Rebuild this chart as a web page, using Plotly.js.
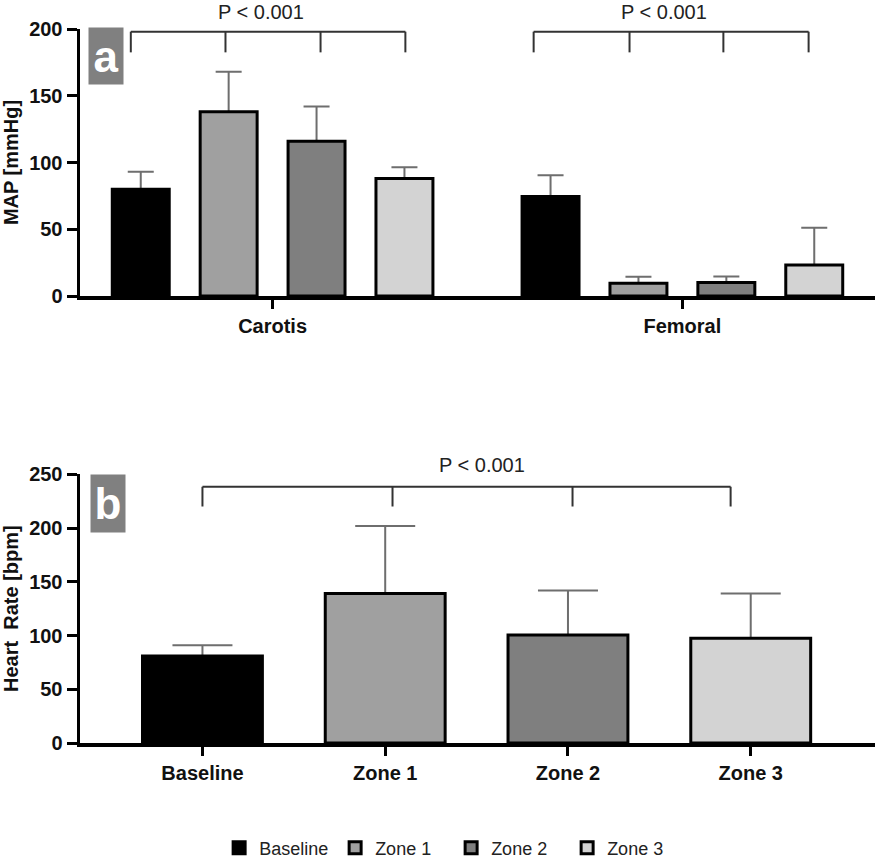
<!DOCTYPE html>
<html>
<head>
<meta charset="utf-8">
<script src="https://cdn.plot.ly/plotly-3.0.1.min.js"></script>
<style>html,body{margin:0;padding:0;background:#fff;}#chart{width:879px;height:860px;}</style>
</head>
<body>
<div id="chart"></div>
<script>
// ---------- data ----------
const sites = ['Carotis', 'Femoral'];
const groups = ['Baseline', 'Zone 1', 'Zone 2', 'Zone 3'];
const groupColors = ['#000000', '#a0a0a0', '#7f7f7f', '#d3d3d3'];

// MAP [mmHg] means (Carotis, Femoral) and upper SD
const mapBaseline = [80, 74.5];
const mapZone1 = [138, 9.5];
const mapZone2 = [116, 10.2];
const mapZone3 = [88, 23.2];
const mapBaselineSD = [13, 16];
const mapZone1SD = [30, 5];
const mapZone2SD = [26, 4.5];
const mapZone3SD = [8.5, 28];

// Heart rate [bpm]
const hrMeans = [81, 139, 100.5, 97.5];
const hrSD = [10, 63, 41.5, 41.5];

const pText = 'P < 0.001';

// ---------- traces ----------
const mapMeans = [mapBaseline, mapZone1, mapZone2, mapZone3];
const mapSDs = [mapBaselineSD, mapZone1SD, mapZone2SD, mapZone3SD];
const errColor = '#6e6e6e';
const traces = [];

// error-bar carriers first (so the opaque bars drawn later hide the lower half)
groups.forEach((g, i) => {
  traces.push({
    type: 'bar', x: sites, y: mapMeans[i], xaxis: 'x', yaxis: 'y',
    offsetgroup: 'g' + i, showlegend: false, hoverinfo: 'skip',
    marker: {color: 'rgba(0,0,0,0)', line: {width: 0}},
    error_y: {type: 'data', array: mapSDs[i], symmetric: true, color: errColor, thickness: 2, width: 13}
  });
});
traces.push({
  type: 'bar', x: groups, y: hrMeans, xaxis: 'x2', yaxis: 'y2',
  offsetgroup: 'hr', width: 0.656, showlegend: false, hoverinfo: 'skip',
  marker: {color: 'rgba(0,0,0,0)', line: {width: 0}},
  error_y: {type: 'data', array: hrSD, symmetric: true, color: errColor, thickness: 2, width: 30}
});
// visible bars
groups.forEach((g, i) => {
  traces.push({
    type: 'bar', name: g, x: sites, y: mapMeans[i], xaxis: 'x', yaxis: 'y',
    offsetgroup: 'g' + i,
    marker: {color: groupColors[i], line: {color: '#000', width: 3}}
  });
});
traces.push({
  type: 'bar', x: groups, y: hrMeans, xaxis: 'x2', yaxis: 'y2',
  offsetgroup: 'hr', width: 0.656, showlegend: false,
  marker: {color: groupColors, line: {color: '#000', width: 3}}
});

// ---------- brackets ----------
const bracketColor = '#333';
const shapes = [];
function bracket(xr, yr, xs, yTop, yBot) {
  shapes.push({type: 'line', xref: xr, yref: yr, x0: xs[0], x1: xs[xs.length - 1], y0: yTop, y1: yTop,
    line: {color: bracketColor, width: 2}});
  xs.forEach(x => shapes.push({type: 'line', xref: xr, yref: yr, x0: x, x1: x, y0: yTop, y1: yBot,
    line: {color: bracketColor, width: 2}}));
}
bracket('x', 'y', [-0.346, -0.115, 0.117, 0.324], 198, 182.5);
bracket('x', 'y', [0.637, 0.871, 1.10, 1.308], 198, 182.5);
bracket('x2', 'y2', [0, 1.04, 2.025, 2.89], 238.5, 220);

const txtFont = {family: 'Liberation Sans, Arial, sans-serif', size: 20, color: '#222'};
const boldTick = {family: 'Liberation Sans, Arial, sans-serif', size: 20, color: '#111', weight: 700};
const labelFont = {family: 'Liberation Sans Narrow, Liberation Sans, Arial, sans-serif', size: 44, color: '#fff', weight: 700};

const annotations = [
  {xref: 'x', yref: 'paper', x: -0.029, y: 1.0238, text: pText, showarrow: false, font: txtFont, yanchor: 'middle'},
  {xref: 'x', yref: 'paper', x: 0.955, y: 1.0238, text: pText, showarrow: false, font: txtFont, yanchor: 'middle'},
  {xref: 'x2', yref: 'paper', x: 1.529, y: 0.3894, text: pText, showarrow: false, font: txtFont, yanchor: 'middle'},
  {xref: 'paper', yref: 'paper', x: 0.01, y: 1.0028, xanchor: 'left', yanchor: 'top', text: 'a',
    showarrow: false, bgcolor: '#808080', width: 34, height: 56, borderpad: 0, font: labelFont},
  {xref: 'paper', yref: 'paper', x: 0.0126, y: 0.3768, xanchor: 'left', yanchor: 'top', text: 'b',
    showarrow: false, bgcolor: '#808080', width: 34, height: 57, borderpad: 0, font: labelFont}
];

const axisCommon = {
  showline: true, linecolor: '#000', linewidth: 3.5, ticks: 'outside', tickcolor: '#000', tickwidth: 3,
  showgrid: false, zeroline: false, fixedrange: true
};

const layout = {
  width: 879, height: 860,
  margin: {l: 80, r: 4, t: 29, b: 117, autoexpand: false},
  paper_bgcolor: '#fff', plot_bgcolor: '#fff',
  barmode: 'group', bargap: 0.142, bargroupgap: 0.352,
  font: {family: 'Liberation Sans, Arial, sans-serif', color: '#111'},
  showlegend: true,
  legend: {orientation: 'h', x: 0.175, xanchor: 'left', y: -0.147, yanchor: 'middle',
    entrywidth: 71, entrywidthmode: 'pixels',
    font: {family: 'Liberation Sans, Arial, sans-serif', size: 18, color: '#222'}, traceorder: 'normal'},
  xaxis: Object.assign({}, axisCommon, {anchor: 'y', domain: [0, 1], type: 'category', range: [-0.47, 1.47],
    ticklen: 9, tickfont: boldTick}),
  yaxis: Object.assign({}, axisCommon, {anchor: 'x', domain: [0.62605, 1], range: [0, 200], dtick: 50, ticklen: 10,
    tickfont: boldTick,
    title: {text: 'MAP [mmHg]', standoff: 8, font: {family: 'Liberation Sans, Arial, sans-serif', size: 20, color: '#111', weight: 700}}}),
  xaxis2: Object.assign({}, axisCommon, {anchor: 'y2', domain: [0, 1], type: 'category', range: [-0.67, 3.68],
    ticklen: 9, tickfont: boldTick}),
  yaxis2: Object.assign({}, axisCommon, {anchor: 'x2', domain: [0, 0.3763], range: [0, 250], dtick: 50, ticklen: 10,
    tickfont: boldTick,
    title: {text: 'Heart\u00a0 Rate [bpm]', standoff: 8, font: {family: 'Liberation Sans, Arial, sans-serif', size: 20, color: '#111', weight: 700}}}),
  shapes: shapes,
  annotations: annotations
};

Plotly.newPlot('chart', traces, layout, {displayModeBar: false, staticPlot: true});
</script>
</body>
</html>
